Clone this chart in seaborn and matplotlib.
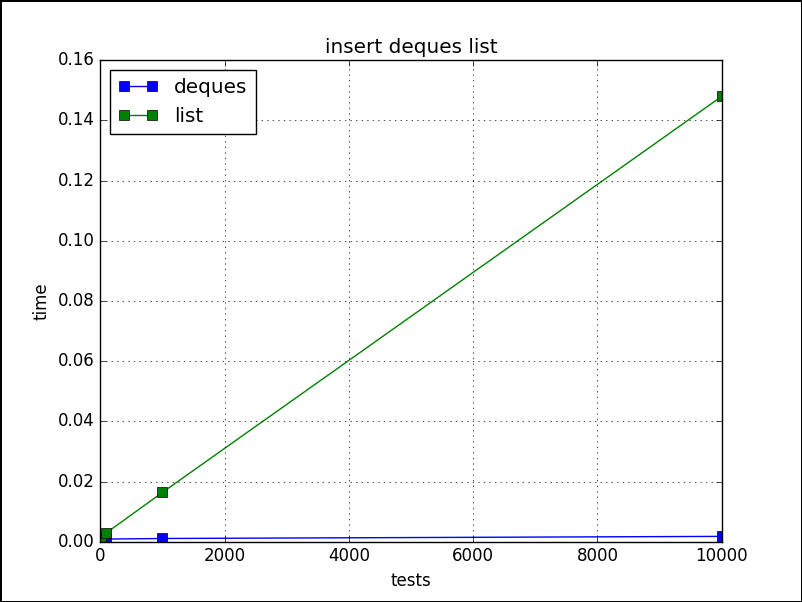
import pandas as pd
import matplotlib
matplotlib.use("Agg")
import matplotlib.pyplot as plt
import seaborn as sns

# данные
tests = [10, 100, 1000, 10000]
deques_time = [0.0008, 0.0009, 0.0011, 0.0018]
list_time = [0.0005, 0.003, 0.0164, 0.148]

df = pd.DataFrame({
    "tests": tests * 2,
    "time": deques_time + list_time,
    "name": ["deques"] * len(tests) + ["list"] * len(tests),
})

plt.style.use("classic")
fig = plt.figure(figsize=(8.02, 6.02), dpi=100, edgecolor="black", linewidth=1)
ax = fig.add_subplot(111)

sns.lineplot(
    data=df, x="tests", y="time", hue="name",
    palette={"deques": "#0000ff", "list": "#008000"},
    marker="s", markersize=7, markeredgecolor="black", markeredgewidth=0.5,
    linewidth=1, ax=ax,
)

ax.set_xlim(0, 10000)
ax.set_ylim(0, 0.16)
ax.set_title("insert deques list", fontsize=14.4)
ax.set_xlabel("tests", fontsize=12)
ax.set_ylabel("time", fontsize=12)
ax.grid(True)
handles, labels = ax.get_legend_handles_labels()
ax.legend(handles, labels, loc="upper left", fontsize=14.4)

fig.savefig("out.png", dpi=100, edgecolor="black")
